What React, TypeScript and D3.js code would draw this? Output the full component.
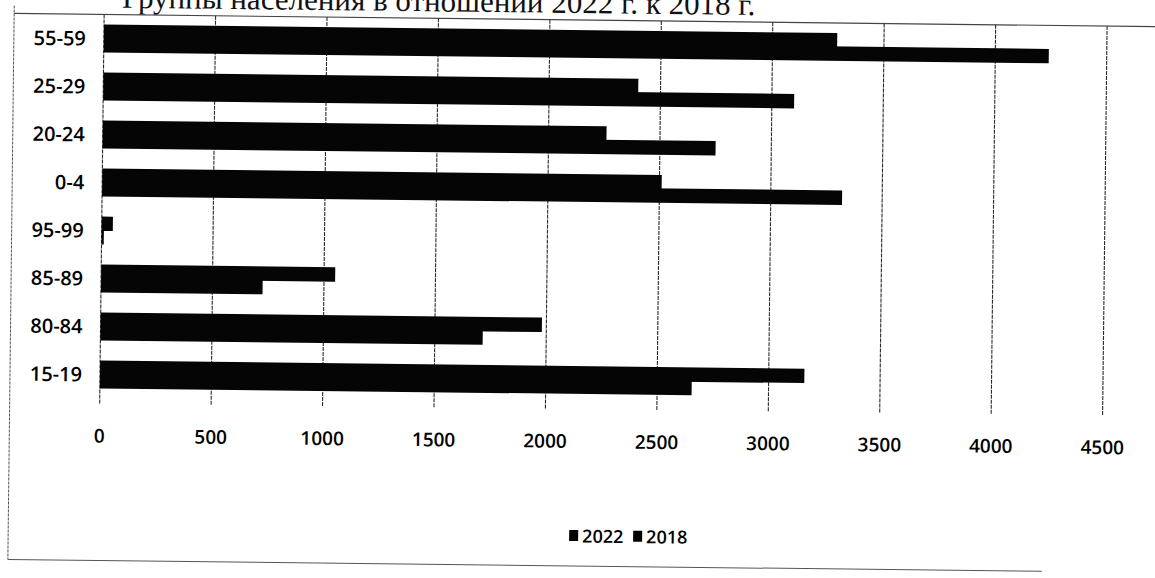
import React from "react";
import * as d3 from "d3";

// Categories listed bottom-to-top (Excel bar chart order)
const categories = ["15-19", "80-84", "85-89", "95-99", "0-4", "20-24", "25-29", "55-59"];
const series = ["2022", "2018"];
const values2022 = [2655, 1715, 725, 10, 3320, 2750, 3100, 4240];
const values2018 = [3160, 1980, 1050, 50, 2510, 2260, 2400, 3290];
const xTicks = [0, 500, 1000, 1500, 2000, 2500, 3000, 3500, 4000, 4500];
const titleText = "Группы населения в отношении 2022 г. к 2018 г.";

const W = 1155;
const H = 578;

export default function App() {
  const plotTop = 20;
  const plotBottom = 404;
  const x = d3.scaleLinear().domain([0, 4500]).range([101, 1104]);
  const y = d3
    .scaleBand<string>()
    .domain([...categories].reverse())
    .range([plotTop, plotBottom])
    .paddingInner(0.44)
    .paddingOuter(0.22);
  // within a group: 2018 above, 2022 below (first series nearest the axis origin)
  const inner = d3.scaleBand<string>().domain(["2018", "2022"]).range([0, y.bandwidth()]);
  const valuesBySeries: Record<string, number[]> = { "2022": values2022, "2018": values2018 };
  const font = "'Open Sans', 'Noto Sans', sans-serif";

  return (
    <svg
      width={W}
      height={H}
      style={{ position: "absolute", left: 0, top: 0, background: "#fff" }}
    >
      <g transform="rotate(0.66 580 290)">
        <text
          x={752}
          y={13}
          textAnchor="end"
          fontFamily="'Liberation Serif', 'DejaVu Serif', serif"
          fontSize={31}
          fill="#111"
        >
          {titleText}
        </text>
        {/* chart frame */}
        <line x1={11} x2={1240} y1={plotTop} y2={plotTop} stroke="#444" strokeWidth={1.2} />
        <line x1={11} x2={11} y1={plotTop - 8} y2={566} stroke="#555" strokeWidth={1} strokeDasharray="3 1" />
        <line x1={11} x2={1045} y1={566} y2={566} stroke="#555" strokeWidth={1} />
        {/* gridlines */}
        {xTicks.map((t) => (
          <line
            key={"g" + t}
            x1={x(t)}
            x2={x(t)}
            y1={plotTop}
            y2={plotBottom + 6}
            stroke="#2a2a2a"
            strokeWidth={1.1}
            strokeDasharray="4 1"
          />
        ))}
        {/* bars */}
        {categories.map((c, i) =>
          series.map((s) => (
            <rect
              key={c + s}
              x={x(0)}
              y={(y(c) as number) + (inner(s) as number) - 0.5}
              width={x(valuesBySeries[s][i]) - x(0)}
              height={inner.bandwidth() + 1}
              fill="#050505"
            />
          ))
        )}
        {/* category labels */}
        {categories.map((c) => (
          <text
            key={"l" + c}
            x={83}
            y={(y(c) as number) + y.bandwidth() / 2}
            dy="0.36em"
            textAnchor="end"
            fontFamily={font}
            fontWeight={600}
            fontSize={20}
            fill="#000"
          >
            {c}
          </text>
        ))}
        {/* x tick labels */}
        {xTicks.map((t) => (
          <text
            key={"t" + t}
            x={x(t)}
            y={448}
            textAnchor="middle"
            fontFamily={font}
            fontWeight={600}
            fontSize={19}
            fill="#000"
          >
            {t}
          </text>
        ))}
        {/* legend */}
        <g fontFamily={font} fontWeight={600} fontSize={18} fill="#000">
          {series.map((s, i) => (
            <g key={"lg" + s} transform={`translate(${572 + i * 64},536)`}>
              <rect x={0} y={-6} width={9} height={11} fill="#000" />
              <text x={13} y={0} dy="0.36em">
                {s}
              </text>
            </g>
          ))}
        </g>
      </g>
    </svg>
  );
}
